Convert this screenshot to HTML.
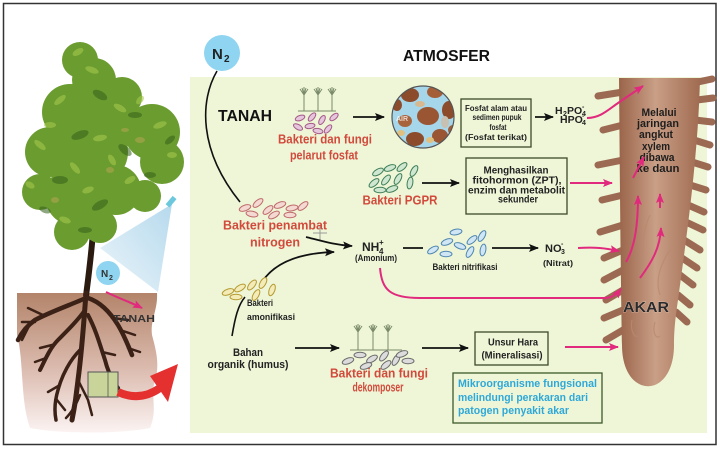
<!DOCTYPE html>
<html><head><meta charset="utf-8"><style>
html,body{margin:0;padding:0;background:#fff;width:720px;height:450px;overflow:hidden}
svg{display:block}
text{font-family:"Liberation Sans",Arial,sans-serif;font-weight:bold}
</style></head><body>
<svg width="720" height="450" viewBox="0 0 720 450" xmlns="http://www.w3.org/2000/svg">
<defs>
<marker id="ab" markerWidth="10" markerHeight="8" refX="9" refY="4" orient="auto" markerUnits="userSpaceOnUse"><path d="M0,0 L10,4 L0,8 L2,4 z" fill="#111"/></marker>
<marker id="ap" markerWidth="10" markerHeight="8" refX="9" refY="4" orient="auto" markerUnits="userSpaceOnUse"><path d="M0,0 L10,4 L0,8 L2,4 z" fill="#e12a7d"/></marker>
<linearGradient id="soil" x1="0" y1="0" x2="0" y2="1"><stop offset="0" stop-color="#b3846a"/><stop offset="0.55" stop-color="#dcbcb0"/><stop offset="1" stop-color="#fbf3f2"/></linearGradient>
<linearGradient id="root" x1="0" y1="0" x2="1" y2="0"><stop offset="0" stop-color="#9a644a"/><stop offset="0.45" stop-color="#c99f86"/><stop offset="1" stop-color="#a06b51"/></linearGradient>
<linearGradient id="cone" x1="1" y1="0" x2="0" y2="1"><stop offset="0" stop-color="#a9d3ea"/><stop offset="1" stop-color="#e8f3f9"/></linearGradient>
<clipPath id="cc"><circle cx="423" cy="117" r="31"/></clipPath>
</defs>

<rect x="3.5" y="3.5" width="712.5" height="441" fill="#fff" stroke="#333" stroke-width="1.5"/>

<path d="M17,293 L157,293 C158,310 150,320 152,335 C156,350 160,365 155,380 C150,395 158,410 150,428 C120,434 60,434 30,428 C20,400 24,360 17,335 Z" fill="url(#soil)"/>
<polygon points="172,204 100,248 158,292" fill="url(#cone)" opacity="0.85"/>
<rect x="169" y="196" width="5" height="11" fill="#6cc8dc" transform="rotate(40 171 201)"/>
<path d="M93,232 C91,258 88,280 86,296" stroke="#2b1a10" stroke-width="6" fill="none"/>
<g fill="#6b9c30">
<circle cx="80" cy="60" r="18"/><circle cx="94" cy="80" r="22"/><circle cx="122" cy="97" r="20"/>
<circle cx="70" cy="112" r="28"/><circle cx="110" cy="122" r="30"/><circle cx="152" cy="132" r="28"/>
<circle cx="50" cy="152" r="25"/><circle cx="96" cy="152" r="32"/><circle cx="162" cy="162" r="22"/>
<circle cx="40" cy="192" r="18"/><circle cx="75" cy="196" r="30"/><circle cx="116" cy="190" r="25"/>
<circle cx="145" cy="196" r="16"/><circle cx="72" cy="232" r="18"/><circle cx="100" cy="226" r="17"/>
</g>
<g fill="#35611a" opacity="0.55">
<ellipse cx="100" cy="95" rx="8" ry="4" transform="rotate(30 100 95)"/><ellipse cx="80" cy="135" rx="9" ry="4" transform="rotate(-20 80 135)"/><ellipse cx="125" cy="150" rx="8" ry="4" transform="rotate(40 125 150)"/><ellipse cx="60" cy="180" rx="8" ry="4"/><ellipse cx="100" cy="205" rx="9" ry="4" transform="rotate(-30 100 205)"/><ellipse cx="150" cy="175" rx="6" ry="3"/><ellipse cx="45" cy="210" rx="6" ry="3" transform="rotate(20 45 210)"/><ellipse cx="135" cy="115" rx="7" ry="3"/><ellipse cx="85" cy="230" rx="7" ry="3"/><ellipse cx="170" cy="140" rx="6" ry="3" transform="rotate(-40 170 140)"/>
</g>
<g fill="#a3c84a" opacity="0.6">
<ellipse cx="78" cy="52" rx="6" ry="3" transform="rotate(-30 78 52)"/><ellipse cx="92" cy="70" rx="7" ry="3" transform="rotate(20 92 70)"/><ellipse cx="60" cy="100" rx="7" ry="3" transform="rotate(-40 60 100)"/><ellipse cx="120" cy="108" rx="7" ry="3" transform="rotate(30 120 108)"/><ellipse cx="160" cy="125" rx="7" ry="3" transform="rotate(-20 160 125)"/><ellipse cx="40" cy="145" rx="7" ry="3" transform="rotate(40 40 145)"/><ellipse cx="100" cy="138" rx="7" ry="3" transform="rotate(-10 100 138)"/><ellipse cx="75" cy="168" rx="7" ry="3" transform="rotate(50 75 168)"/><ellipse cx="130" cy="180" rx="6" ry="3" transform="rotate(-30 130 180)"/><ellipse cx="65" cy="220" rx="6" ry="3" transform="rotate(20 65 220)"/><ellipse cx="172" cy="155" rx="5" ry="3"/><ellipse cx="112" cy="160" rx="6" ry="3" transform="rotate(60 112 160)"/><ellipse cx="50" cy="125" rx="6" ry="3"/><ellipse cx="140" cy="100" rx="5" ry="3" transform="rotate(-50 140 100)"/><ellipse cx="88" cy="190" rx="6" ry="3" transform="rotate(-20 88 190)"/><ellipse cx="30" cy="185" rx="5" ry="3" transform="rotate(30 30 185)"/>
</g>
<g fill="#bca655" opacity="0.5"><ellipse cx="140" cy="140" rx="5" ry="3"/><ellipse cx="110" cy="170" rx="4" ry="3"/><ellipse cx="55" cy="200" rx="4" ry="3"/><ellipse cx="125" cy="130" rx="4" ry="2"/></g>
<g stroke="#3b2116" fill="none" stroke-linecap="round">
<path d="M86,293 C84,320 82,350 78,380 C76,400 74,410 72,420" stroke-width="5"/>
<path d="M86,298 C70,305 50,312 35,320 C28,325 22,332 18,340" stroke-width="4.5"/>
<path d="M88,298 C100,302 110,312 118,325 C124,335 128,345 132,355" stroke-width="4.5"/>
<path d="M85,310 C78,320 68,330 58,340 C50,348 45,360 40,370" stroke-width="4"/>
<path d="M88,315 C96,330 100,345 105,360 C108,372 112,380 118,388" stroke-width="4"/>
<path d="M80,350 C70,360 62,375 58,390 C55,400 54,410 56,420" stroke-width="3.5"/>
<path d="M45,316 L28,308 M35,322 L22,322 M28,328 L22,340 M112,318 L128,320 M120,330 L135,335 M128,348 L140,352 M52,345 L40,348 M46,358 L35,362 M102,352 L115,355 M108,372 L100,385 M60,385 L48,392 M57,400 L65,410 M78,380 L88,400 L92,415 M80,395 C76,405 72,412 66,418" stroke-width="2.5"/>
</g>
<rect x="88" y="372" width="30" height="25" fill="#c8d49a" stroke="#555" stroke-width="1"/>
<line x1="108" y1="372" x2="108" y2="397" stroke="#555" stroke-width="0.8"/>
<path d="M118,392 Q140,402 160,388" stroke="#e53030" stroke-width="8" fill="none"/>
<polygon points="178,364 150,376 168,402" fill="#e53030"/>
<circle cx="108" cy="273" r="12" fill="#8fd4f0"/>
<text x="101" y="277" font-size="10" fill="#333">N</text><text x="109" y="280" font-size="7" fill="#333">2</text>
<path d="M106,292 C118,298 130,302 142,308" stroke="#e12a7d" stroke-width="2" fill="none" marker-end="url(#ap)"/>
<text x="113" y="322" font-size="10" fill="#333" textLength="42" lengthAdjust="spacingAndGlyphs">TANAH</text>

<rect x="190" y="77" width="517" height="356" fill="#eef6d7"/>

<circle cx="222" cy="53" r="18" fill="#8fd4f0"/>
<text x="212" y="59" font-size="15" fill="#222">N</text><text x="224" y="62" font-size="10" fill="#222">2</text>
<text x="403" y="61" font-size="16" fill="#111" textLength="87" lengthAdjust="spacingAndGlyphs">ATMOSFER</text>
<text x="218" y="121" font-size="16" fill="#111" textLength="54" lengthAdjust="spacingAndGlyphs">TANAH</text>
<path d="M217,71 C200,100 198,150 240,202" stroke="#111" stroke-width="1.6" fill="none"/>

<g stroke="#7a8a6a" stroke-width="1" fill="none">
<path d="M298,111 L336,111 M304,111 L304,95 M318,111 L318,95 M332,111 L332,95"/>
<path d="M304,95 L300,89 M304,95 L302,88 M304,95 L304,87 M304,95 L306,88 M304,95 L308,89 M318,95 L314,89 M318,95 L316,88 M318,95 L318,87 M318,95 L320,88 M318,95 L322,89 M332,95 L328,89 M332,95 L330,88 M332,95 L332,87 M332,95 L334,88 M332,95 L336,89"/>
</g>
<g fill="#e6c6dc" stroke="#a45a88" stroke-width="1">
<ellipse cx="300" cy="118" rx="5" ry="2.5" transform="rotate(-20 300 118)"/>
<ellipse cx="312" cy="117" rx="5" ry="2.5" transform="rotate(-50 312 117)"/>
<ellipse cx="322" cy="120" rx="5" ry="2.5" transform="rotate(-60 322 120)"/>
<ellipse cx="334" cy="117" rx="5" ry="2.5" transform="rotate(-40 334 117)"/>
<ellipse cx="298" cy="127" rx="5" ry="2.5" transform="rotate(30 298 127)"/>
<ellipse cx="310" cy="126" rx="5" ry="2.5" transform="rotate(-10 310 126)"/>
<ellipse cx="328" cy="129" rx="5" ry="2.5" transform="rotate(-50 328 129)"/>
<ellipse cx="318" cy="131" rx="5" ry="2.5" transform="rotate(10 318 131)"/>
</g>
<text x="325" y="143.5" font-size="12.5" fill="#d24a3c" text-anchor="middle" textLength="94" lengthAdjust="spacingAndGlyphs">Bakteri dan fungi</text>
<text x="324" y="159.5" font-size="12.5" fill="#d24a3c" text-anchor="middle" textLength="68" lengthAdjust="spacingAndGlyphs">pelarut fosfat</text>
<path d="M353,117 L384,117" stroke="#111" stroke-width="1.8" marker-end="url(#ab)"/>

<circle cx="423" cy="117" r="31" fill="#a6d6ea"/>
<g clip-path="url(#cc)">
<ellipse cx="410" cy="95" rx="9" ry="7" fill="#8c4b2b"/>
<ellipse cx="435" cy="92" rx="8" ry="6" fill="#a55f38"/>
<ellipse cx="449" cy="110" rx="7" ry="9" fill="#8c4b2b"/>
<ellipse cx="428" cy="116" rx="11" ry="9" fill="#9a5532"/>
<ellipse cx="405" cy="121" rx="7" ry="6" fill="#a8643c"/>
<ellipse cx="415" cy="139" rx="9" ry="7" fill="#8c4b2b"/>
<ellipse cx="440" cy="136" rx="8" ry="7" fill="#9a5532"/>
<ellipse cx="397" cy="105" rx="5" ry="6" fill="#8c4b2b"/>
<ellipse cx="453" cy="130" rx="5" ry="5" fill="#a55f38"/>
<ellipse cx="420" cy="104" rx="5" ry="3" fill="#d8b890"/>
<ellipse cx="445" cy="122" rx="4" ry="6" fill="#c8c0b0"/>
<ellipse cx="401" cy="133" rx="4" ry="3" fill="#e0c080"/>
<ellipse cx="430" cy="140" rx="4" ry="3" fill="#e0c080"/>
</g>
<circle cx="423" cy="117" r="31" fill="none" stroke="#555" stroke-width="1.2"/>
<text x="396" y="121" font-size="7" fill="#fff" opacity="0.75">AIR</text>

<rect x="461" y="99" width="70" height="48" fill="none" stroke="#3d4a2a" stroke-width="1.3"/>
<g font-size="8" fill="#222" text-anchor="middle">
<text x="496" y="111" textLength="62" lengthAdjust="spacingAndGlyphs">Fosfat alam atau</text>
<text x="497" y="120" textLength="49" lengthAdjust="spacingAndGlyphs">sedimen pupuk</text>
<text x="498" y="130" textLength="17" lengthAdjust="spacingAndGlyphs">fosfat</text>
<text x="496" y="140" textLength="62" lengthAdjust="spacingAndGlyphs">(Fosfat terikat)</text>
</g>
<path d="M535,117 L553,117" stroke="#111" stroke-width="1.8" marker-end="url(#ab)"/>
<text x="555" y="114" font-size="10.5" fill="#222">H</text><text x="563" y="116" font-size="7" fill="#222">2</text><text x="567" y="114" font-size="10.5" fill="#222">PO</text><text x="582" y="116" font-size="7" fill="#222">4</text><text x="582" y="109" font-size="7" fill="#222">-</text>
<text x="560" y="123" font-size="10.5" fill="#222">HPO</text><text x="582" y="125" font-size="7" fill="#222">4</text><text x="582" y="118" font-size="7" fill="#222">-</text>

<g fill="#cfe6d0" stroke="#3f7f58" stroke-width="1">
<ellipse cx="378" cy="172" rx="6" ry="2.8" transform="rotate(-30 378 172)"/>
<ellipse cx="390" cy="168" rx="6" ry="2.8" transform="rotate(-20 390 168)"/>
<ellipse cx="402" cy="167" rx="6" ry="2.8" transform="rotate(-40 402 167)"/>
<ellipse cx="414" cy="171" rx="6" ry="2.8" transform="rotate(-60 414 171)"/>
<ellipse cx="374" cy="183" rx="6" ry="2.8" transform="rotate(-40 374 183)"/>
<ellipse cx="386" cy="180" rx="6" ry="2.8" transform="rotate(-50 386 180)"/>
<ellipse cx="398" cy="179" rx="6" ry="2.8" transform="rotate(-60 398 179)"/>
<ellipse cx="410" cy="183" rx="6" ry="2.8" transform="rotate(-80 410 183)"/>
<ellipse cx="392" cy="189" rx="6" ry="2.8" transform="rotate(-20 392 189)"/>
<ellipse cx="380" cy="190" rx="6" ry="2.8"/>
</g>
<text x="400" y="204.5" font-size="13" fill="#d24a3c" text-anchor="middle" textLength="75" lengthAdjust="spacingAndGlyphs">Bakteri PGPR</text>
<path d="M422,183 L459,183" stroke="#111" stroke-width="1.8" marker-end="url(#ab)"/>
<rect x="466" y="158" width="101" height="56" fill="none" stroke="#3d4a2a" stroke-width="1.3"/>
<g font-size="10.5" fill="#222" text-anchor="middle">
<text x="516" y="173.5" textLength="65" lengthAdjust="spacingAndGlyphs">Menghasilkan</text>
<text x="517" y="183.5" textLength="89" lengthAdjust="spacingAndGlyphs">fitohormon (ZPT),</text>
<text x="516.5" y="193.5" textLength="97" lengthAdjust="spacingAndGlyphs">enzim dan metabolit</text>
<text x="518" y="202.5" textLength="40" lengthAdjust="spacingAndGlyphs">sekunder</text>
</g>

<g fill="#f3d9d2" stroke="#c06a6a" stroke-width="1">
<ellipse cx="245" cy="208" rx="6" ry="2.8" transform="rotate(-20 245 208)"/>
<ellipse cx="258" cy="203" rx="6" ry="2.8" transform="rotate(-40 258 203)"/>
<ellipse cx="268" cy="210" rx="6" ry="2.8" transform="rotate(-40 268 210)"/>
<ellipse cx="280" cy="205" rx="6" ry="2.8" transform="rotate(-20 280 205)"/>
<ellipse cx="292" cy="208" rx="6" ry="2.8" transform="rotate(-10 292 208)"/>
<ellipse cx="303" cy="206" rx="6" ry="2.8" transform="rotate(-40 303 206)"/>
<ellipse cx="252" cy="214" rx="6" ry="2.8" transform="rotate(10 252 214)"/>
<ellipse cx="274" cy="215" rx="6" ry="2.8" transform="rotate(-30 274 215)"/>
<ellipse cx="290" cy="215" rx="6" ry="2.8"/>
</g>
<text x="275" y="229.5" font-size="13" fill="#d24a3c" text-anchor="middle" textLength="104" lengthAdjust="spacingAndGlyphs">Bakteri penambat</text>
<text x="275" y="246.5" font-size="13" fill="#d24a3c" text-anchor="middle" textLength="50" lengthAdjust="spacingAndGlyphs">nitrogen</text>
<path d="M313,233 L327,233 M320,226 L320,240" stroke="#999" stroke-width="1"/>
<path d="M306,237 C322,241 335,245 352,246" stroke="#111" stroke-width="1.8" fill="none" marker-end="url(#ab)"/>
<path d="M262,282 C275,262 300,253 334,252" stroke="#111" stroke-width="1.8" fill="none" marker-end="url(#ab)"/>

<text x="362" y="251" font-size="12" fill="#222">NH</text><text x="379" y="254" font-size="8" fill="#222">4</text><text x="379" y="245" font-size="8" fill="#222">+</text>
<text x="376" y="261" font-size="9" fill="#222" text-anchor="middle" textLength="42" lengthAdjust="spacingAndGlyphs">(Amonium)</text>
<path d="M403,248 L423,248" stroke="#111" stroke-width="1.8"/>
<g fill="#d0e6f4" stroke="#4f86b0" stroke-width="1">
<ellipse cx="433" cy="250" rx="6" ry="2.8" transform="rotate(-30 433 250)"/>
<ellipse cx="447" cy="242" rx="6" ry="2.8" transform="rotate(-20 447 242)"/>
<ellipse cx="456" cy="232" rx="6" ry="2.8" transform="rotate(-10 456 232)"/>
<ellipse cx="460" cy="246" rx="6" ry="2.8" transform="rotate(20 460 246)"/>
<ellipse cx="472" cy="240" rx="6" ry="2.8" transform="rotate(-40 472 240)"/>
<ellipse cx="482" cy="236" rx="6" ry="2.8" transform="rotate(-60 482 236)"/>
<ellipse cx="446" cy="254" rx="6" ry="2.8"/>
<ellipse cx="470" cy="252" rx="6" ry="2.8" transform="rotate(-60 470 252)"/>
<ellipse cx="483" cy="250" rx="6" ry="2.8" transform="rotate(-80 483 250)"/>
</g>
<text x="465" y="270" font-size="9" fill="#222" text-anchor="middle" textLength="65" lengthAdjust="spacingAndGlyphs">Bakteri nitrifikasi</text>
<path d="M492,248 L538,248" stroke="#111" stroke-width="1.8" marker-end="url(#ab)"/>
<text x="545" y="252" font-size="11" fill="#222">NO</text><text x="561" y="254" font-size="7" fill="#222">3</text><text x="561" y="246" font-size="7" fill="#222">-</text>
<text x="558" y="266" font-size="8.5" fill="#222" text-anchor="middle" textLength="30" lengthAdjust="spacingAndGlyphs">(Nitrat)</text>

<g fill="#f3ecb8" stroke="#b59a30" stroke-width="1">
<ellipse cx="228" cy="292" rx="6" ry="2.8" transform="rotate(-20 228 292)"/>
<ellipse cx="240" cy="288" rx="6" ry="2.8" transform="rotate(-30 240 288)"/>
<ellipse cx="252" cy="285" rx="6" ry="2.8" transform="rotate(-50 252 285)"/>
<ellipse cx="263" cy="283" rx="6" ry="2.8" transform="rotate(-60 263 283)"/>
<ellipse cx="272" cy="290" rx="6" ry="2.8" transform="rotate(-70 272 290)"/>
<ellipse cx="236" cy="297" rx="6" ry="2.8"/>
<ellipse cx="256" cy="295" rx="6" ry="2.8" transform="rotate(-60 256 295)"/>
</g>
<text x="247" y="306" font-size="9" fill="#222" textLength="26" lengthAdjust="spacingAndGlyphs">Bakteri</text>
<text x="247" y="320" font-size="9" fill="#222" textLength="48" lengthAdjust="spacingAndGlyphs">amonifikasi</text>
<path d="M232,336 C235,318 238,305 245,297" stroke="#111" stroke-width="1.6" fill="none"/>
<text x="248" y="356" font-size="11" fill="#222" text-anchor="middle" textLength="30" lengthAdjust="spacingAndGlyphs">Bahan</text>
<text x="248" y="368" font-size="11" fill="#222" text-anchor="middle" textLength="81" lengthAdjust="spacingAndGlyphs">organik (humus)</text>
<path d="M295,348 L339,348" stroke="#111" stroke-width="1.8" marker-end="url(#ab)"/>

<g stroke="#7a8a6a" stroke-width="1" fill="none">
<path d="M350,350 L402,350 M358,350 L358,332 M373,350 L373,332 M388,350 L388,332"/>
<path d="M358,332 L354,326 M358,332 L356,325 M358,332 L358,324 M358,332 L360,325 M358,332 L362,326 M373,332 L369,326 M373,332 L371,325 M373,332 L373,324 M373,332 L375,325 M373,332 L377,326 M388,332 L384,326 M388,332 L386,325 M388,332 L388,324 M388,332 L390,325 M388,332 L392,326"/>
</g>
<g fill="#dcdcdc" stroke="#6c6c6c" stroke-width="1">
<ellipse cx="348" cy="361" rx="6" ry="2.8" transform="rotate(-20 348 361)"/>
<ellipse cx="360" cy="355" rx="6" ry="2.8"/>
<ellipse cx="372" cy="359" rx="6" ry="2.8" transform="rotate(-30 372 359)"/>
<ellipse cx="384" cy="356" rx="6" ry="2.8" transform="rotate(-50 384 356)"/>
<ellipse cx="396" cy="360" rx="6" ry="2.8" transform="rotate(-60 396 360)"/>
<ellipse cx="408" cy="361" rx="6" ry="2.8"/>
<ellipse cx="366" cy="366" rx="6" ry="2.8" transform="rotate(-20 366 366)"/>
<ellipse cx="386" cy="365" rx="6" ry="2.8" transform="rotate(-40 386 365)"/>
<ellipse cx="402" cy="354" rx="6" ry="2.8" transform="rotate(-20 402 354)"/>
</g>
<text x="379" y="377.5" font-size="12.5" fill="#d24a3c" text-anchor="middle" textLength="98" lengthAdjust="spacingAndGlyphs">Bakteri dan fungi</text>
<text x="378" y="391.5" font-size="12.5" fill="#d24a3c" text-anchor="middle" textLength="51" lengthAdjust="spacingAndGlyphs">dekomposer</text>
<path d="M422,348 L468,348" stroke="#111" stroke-width="1.8" marker-end="url(#ab)"/>
<rect x="475" y="332" width="73" height="33" fill="none" stroke="#3d4a2a" stroke-width="1.3"/>
<text x="513" y="345.5" font-size="10.5" fill="#222" text-anchor="middle" textLength="50" lengthAdjust="spacingAndGlyphs">Unsur Hara</text>
<text x="512" y="358.5" font-size="10.5" fill="#222" text-anchor="middle" textLength="61" lengthAdjust="spacingAndGlyphs">(Mineralisasi)</text>
<rect x="453" y="373" width="149" height="50" fill="none" stroke="#3d5a2a" stroke-width="1.3"/>
<g font-size="11" fill="#2fa8d8">
<text x="458" y="387" textLength="139" lengthAdjust="spacingAndGlyphs">Mikroorganisme fungsional</text>
<text x="458" y="401" textLength="130" lengthAdjust="spacingAndGlyphs">melindungi perakaran dari</text>
<text x="458" y="414" textLength="111" lengthAdjust="spacingAndGlyphs">patogen penyakit akar</text>
</g>

<g stroke="#9c6a52" stroke-width="7" stroke-linecap="round" fill="none">
<path d="M698,82 L712,79 M697,100 L713,98 M695,120 L712,122 M694,140 L710,145 M692,162 L708,167 M690,185 L706,190 M688,205 L704,212 M686,222 L703,230 M684,240 L700,250 M682,258 L697,268 M680,275 L693,285 M678,295 L690,305 M676,312 L687,322"/>
<path d="M623,92 L598,96 M623,125 L603,130 M623,160 L598,165 M623,195 L602,200 M623,225 L600,232 M623,250 L604,258 M623,270 L604,280 M623,290 L606,300 M623,310 L604,318 M623,330 L606,340"/>
</g>
<path d="M619,78 L700,78 C698,160 686,240 678,300 C675,320 674,332 674,345 C674,400 622,400 622,345 C621,300 620,200 619,78 Z" fill="url(#root)"/>
<g stroke="#b88a70" stroke-width="1.2" fill="none" opacity="0.8">
<path d="M650,215 C640,235 645,260 640,275 M670,250 C660,265 655,280 660,295 M632,320 C630,330 634,338 638,336 M655,322 C652,332 656,340 660,336"/>
</g>
<g font-size="11" fill="#1e1e1e" text-anchor="middle">
<text x="659" y="116" textLength="35" lengthAdjust="spacingAndGlyphs">Melalui</text>
<text x="658" y="127" textLength="42" lengthAdjust="spacingAndGlyphs">jaringan</text>
<text x="656" y="138" textLength="34" lengthAdjust="spacingAndGlyphs">angkut</text>
<text x="656" y="150" textLength="28" lengthAdjust="spacingAndGlyphs">xylem</text>
<text x="657" y="161" textLength="35" lengthAdjust="spacingAndGlyphs">dibawa</text>
<text x="658" y="172" textLength="43" lengthAdjust="spacingAndGlyphs">ke daun</text>
</g>
<text x="646" y="312" font-size="15" fill="#2a2a2a" text-anchor="middle" stroke="#e8cfc0" stroke-width="0.6" paint-order="stroke" textLength="46" lengthAdjust="spacingAndGlyphs">AKAR</text>

<g stroke="#e12a7d" stroke-width="2" fill="none">
<path d="M587,118 C600,118 608,110 618,103 L643,86" marker-end="url(#ap)"/>
<path d="M633,178 L644,157" marker-end="url(#ap)"/>
<path d="M570,183 L612,183" marker-end="url(#ap)"/>
<path d="M578,248 C595,247 605,248 619,251" marker-end="url(#ap)"/>
<path d="M626,262 C636,245 638,220 638,196" marker-end="url(#ap)"/>
<path d="M660,208 L660,194" marker-end="url(#ap)"/>
<path d="M640,278 C652,262 660,248 661,228" marker-end="url(#ap)"/>
<path d="M380,268 C382,290 390,298 420,298 L605,298 C612,298 617,294 621,289" marker-end="url(#ap)"/>
<path d="M565,347 L618,347" marker-end="url(#ap)"/>
</g>
</svg>
</body></html>
